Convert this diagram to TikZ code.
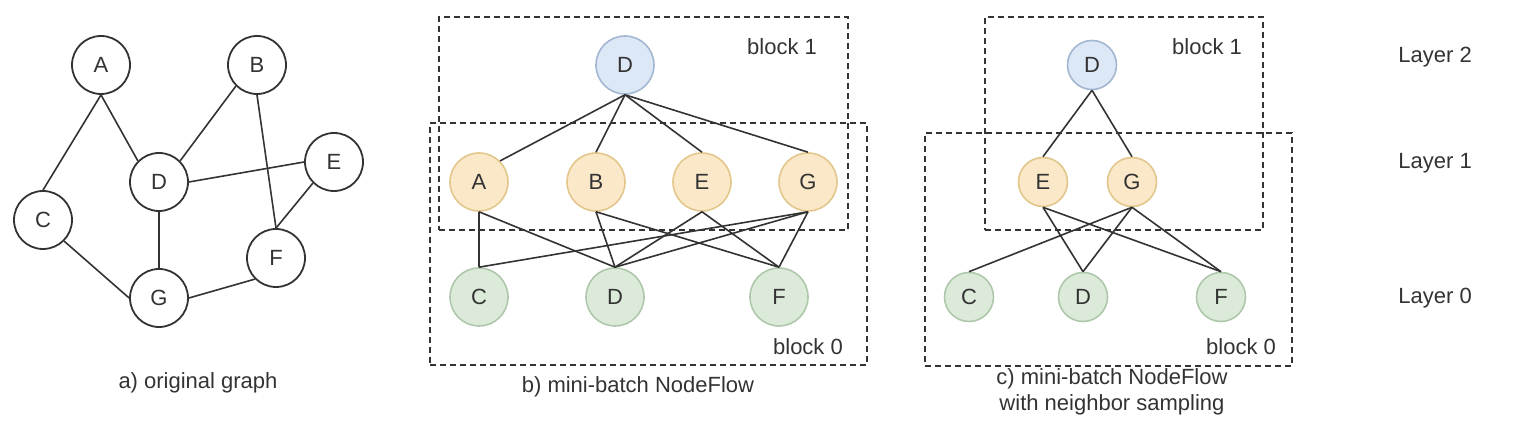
\documentclass[tikz,border=0pt]{standalone}
\usepackage{fontspec}
\setmainfont{Liberation Sans}
\definecolor{bluefill}{HTML}{DDE8F6}
\definecolor{bluedraw}{HTML}{A3B6D2}
\definecolor{orfill}{HTML}{FAE8C8}
\definecolor{ordraw}{HTML}{E2C68C}
\definecolor{grfill}{HTML}{DCEADA}
\definecolor{grdraw}{HTML}{AFC8AC}
\definecolor{ink}{HTML}{333333}
\begin{document}
\begin{tikzpicture}[x=0.5pt,y=-0.5pt,
  every node/.style={font=\fontsize{11pt}{13pt}\selectfont, text=ink},
  vtx/.style={circle, draw=ink, line width=0.9pt, fill=white, minimum size=29pt, inner sep=0pt},
  vtxb/.style={circle, line width=0.8pt, minimum size=29pt, inner sep=0pt},
  vtxc/.style={circle, line width=0.8pt, minimum size=24.5pt, inner sep=0pt},
  blue/.style={fill=bluefill, draw=bluedraw},
  orng/.style={fill=orfill, draw=ordraw},
  gren/.style={fill=grfill, draw=grdraw},
  edge/.style={draw=ink, line width=0.8pt},
  blockbox/.style={draw=ink, line width=0.8pt, dash pattern=on 3pt off 2pt},
  lbl/.style={inner sep=0pt}
]
\useasboundingbox (0,0) rectangle (1523,431);

% ---------- a) original graph ----------
\node[vtx] (aA) at (101,65) {A};
\node[vtx] (aB) at (257,65) {B};
\node[vtx] (aE) at (334,162) {E};
\node[vtx] (aD) at (159,182) {D};
\node[vtx] (aC) at (43,220) {C};
\node[vtx] (aF) at (276,258) {F};
\node[vtx] (aG) at (159,298) {G};
\draw[edge] (aA.south) -- (aC.north);
\draw[edge] (aA.south) -- (aD.north west);
\draw[edge] (aB.south west) -- (aD.north east);
\draw[edge] (aB.south) -- (aF.north);
\draw[edge] (aD.east) -- (aE.west);
\draw[edge] (aE.south west) -- (aF.north);
\draw[edge] (aD.south) -- (aG.north);
\draw[edge] (aC.south east) -- (aG.west);
\draw[edge] (aG.east) -- (aF.south west);
\node[lbl] (capa) at (198,383) {a) original graph};

% ---------- b) mini-batch NodeFlow ----------
\node[blockbox, minimum width=204.5pt, minimum height=106.5pt, inner sep=0pt] (b1) at (643.5,123.5) {};
\node[blockbox, minimum width=218.5pt, minimum height=121pt, inner sep=0pt] (b0) at (648.5,244) {};
\node[lbl] (b1t) at (782,47) {block 1};
\node[lbl] (b0t) at (808,347) {block 0};
\node[vtxb,blue] (bDt) at (625,65) {D};
\node[vtxb,orng] (bA) at (479,182) {A};
\node[vtxb,orng] (bB) at (596,182) {B};
\node[vtxb,orng] (bE) at (702,182) {E};
\node[vtxb,orng] (bG) at (808,182) {G};
\node[vtxb,gren] (bC) at (479,297) {C};
\node[vtxb,gren] (bD) at (615,297) {D};
\node[vtxb,gren] (bF) at (779,297) {F};
\draw[edge] (bDt.south) -- (bA.north east);
\draw[edge] (bDt.south) -- (bB.north);
\draw[edge] (bDt.south) -- (bE.north);
\draw[edge] (bDt.south) -- (bG.north);
\draw[edge] (bA.south) -- (bC.north);
\draw[edge] (bA.south) -- (bD.north);
\draw[edge] (bB.south) -- (bD.north);
\draw[edge] (bB.south) -- (bF.north);
\draw[edge] (bE.south) -- (bD.north);
\draw[edge] (bE.south) -- (bF.north);
\draw[edge] (bG.south) -- (bC.north);
\draw[edge] (bG.south) -- (bD.north);
\draw[edge] (bG.south) -- (bF.north);
\node[lbl] (capb) at (638,387) {b) mini-batch NodeFlow};

% ---------- c) with neighbor sampling ----------
\node[blockbox, minimum width=139pt, minimum height=106.5pt, inner sep=0pt] (c1) at (1124,123.5) {};
\node[blockbox, minimum width=183.5pt, minimum height=116.5pt, inner sep=0pt] (c0) at (1108.5,249.5) {};
\node[lbl] (c1t) at (1207,47) {block 1};
\node[lbl] (c0t) at (1241,347) {block 0};
\node[vtxc,blue] (cDt) at (1092,65) {D};
\node[vtxc,orng] (cE) at (1043,182) {E};
\node[vtxc,orng] (cG) at (1132,182) {G};
\node[vtxc,gren] (cC) at (969,297) {C};
\node[vtxc,gren] (cD) at (1083,297) {D};
\node[vtxc,gren] (cF) at (1221,297) {F};
\draw[edge] (cDt.south) -- (cE.north);
\draw[edge] (cDt.south) -- (cG.north);
\draw[edge] (cE.south) -- (cD.north);
\draw[edge] (cE.south) -- (cF.north);
\draw[edge] (cG.south) -- (cC.north);
\draw[edge] (cG.south) -- (cD.north);
\draw[edge] (cG.south) -- (cF.north);
\node[lbl, align=center] (capc) at (1112,392) {c) mini-batch NodeFlow\\with neighbor sampling};

% ---------- layer labels ----------
\node[lbl, anchor=west] (L2) at (1398,57) {Layer 2};
\node[lbl, anchor=west] (L1) at (1398,163) {Layer 1};
\node[lbl, anchor=west] (L0) at (1398,298) {Layer 0};
\end{tikzpicture}
\end{document}
